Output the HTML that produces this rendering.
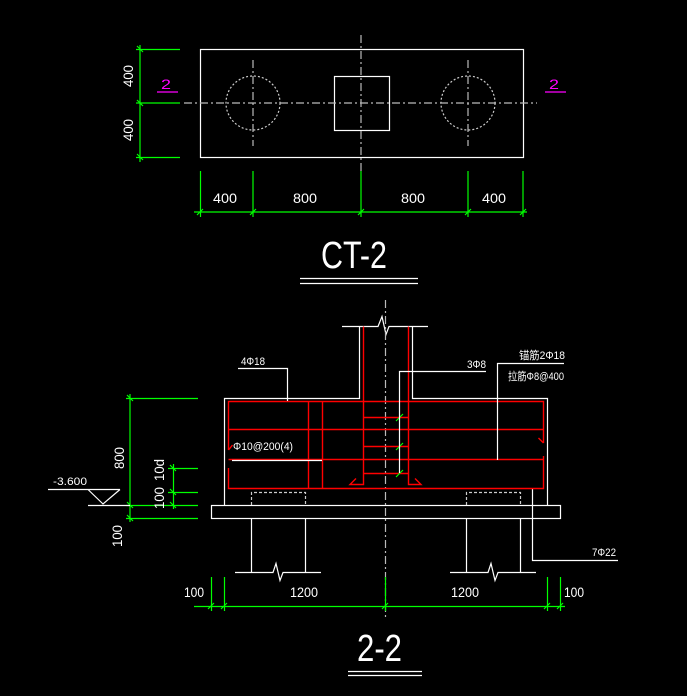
<!DOCTYPE html>
<html><head><meta charset="utf-8"><style>
html,body{margin:0;padding:0;background:#000;width:687px;height:696px;overflow:hidden}
svg{display:block}
text{font-family:"Liberation Sans","Noto Sans CJK SC",sans-serif;fill:#fff}
</style></head><body>
<svg width="687" height="696" viewBox="0 0 687 696" xmlns="http://www.w3.org/2000/svg">
<g fill="none" stroke-width="1.2">
<!-- TOP VIEW -->
<rect x="200.5" y="49.5" width="323" height="108" stroke="#fff"/>
<rect x="334.5" y="76.5" width="55" height="54" stroke="#fff"/>
<circle cx="253" cy="103" r="27" stroke="#ccc" stroke-dasharray="2,2"/>
<circle cx="468" cy="103" r="27" stroke="#ccc" stroke-dasharray="2,2"/>
<g stroke="#bbb" stroke-dasharray="8,3,2,3">
<line x1="184" y1="103" x2="537" y2="103"/>
<line x1="361" y1="35" x2="361" y2="172"/>
<line x1="253" y1="60" x2="253" y2="146"/>
<line x1="468" y1="60" x2="468" y2="146"/>
</g>
<g stroke="#0f0">
<line x1="140" y1="45" x2="140" y2="162"/>
<line x1="136" y1="49.5" x2="180" y2="49.5"/>
<line x1="136" y1="103" x2="180" y2="103"/>
<line x1="136" y1="157.5" x2="180" y2="157.5"/>
<line x1="194" y1="212" x2="527" y2="212"/>
<line x1="200.5" y1="171" x2="200.5" y2="217"/>
<line x1="253" y1="171" x2="253" y2="217"/>
<line x1="361" y1="171" x2="361" y2="217"/>
<line x1="468" y1="171" x2="468" y2="217"/>
<line x1="523" y1="171" x2="523" y2="217"/>
<path d="M137 46l6 6M137 100l6 6M137 154l6 6M197 215l6-6M250 215l6-6M358 215l6-6M465 215l6-6M520 215l6-6"/>
</g>
<g stroke="#f0f"><line x1="157" y1="92" x2="178" y2="92"/><line x1="545" y1="92" x2="566" y2="92"/></g>
<g stroke="#fff"><line x1="300" y1="278.5" x2="418" y2="278.5"/><line x1="300" y1="283.5" x2="418" y2="283.5"/></g>

<!-- SECTION -->
<path d="M224.5 505V398.5H359.5V326.5M412.5 326.5V398.5H547.5V505" stroke="#fff"/>
<path d="M342 326.5H378l4-10 4 18 3-8H428" stroke="#fff"/>
<rect x="211.5" y="505.5" width="349" height="13" stroke="#fff"/>
<line x1="385.5" y1="300" x2="385.5" y2="620" stroke="#bbb" stroke-dasharray="8,3,2,3"/>
<g stroke="#ccc" stroke-dasharray="3,2"><path d="M251.5 505V492.5H305.5V505M466.5 505V492.5H520.5V505"/></g>
<g stroke="#fff">
<path d="M251.5 518.5V572M305.5 518.5V572M466.5 518.5V572M520.5 518.5V572"/>
<path d="M235 572.5H273l3-9 4 17 3-8H321M450 572.5H488l3-9 4 17 3-8H536"/>
<path d="M532.5 488V560.5H618"/>
</g>
<g stroke="#f00" stroke-width="1.4">
<path d="M228.5 450V401.5H543.5V443M543.5 456V488.5H228.5V468"/>
<line x1="228.5" y1="429.5" x2="543.5" y2="429.5"/>
<line x1="228.5" y1="459.5" x2="543.5" y2="459.5"/>
<line x1="308.5" y1="401.5" x2="308.5" y2="488.5"/>
<line x1="322.5" y1="401.5" x2="322.5" y2="488.5"/>
<path d="M363.5 326.5V484.5H350l6-6M408.5 326.5V484.5H421l-6-6"/>
<path d="M363.5 417.5H408.5M363.5 446.5H408.5M363.5 473.5H408.5"/>
<path d="M228.5 450l4-5M543.5 443l-5-5"/>
</g>
<g stroke="#0f0"><path d="M396 421l7-7M396 450l7-7M396 477l7-7"/></g>
<g stroke="#fff">
<path d="M238 368.5H287.5V401"/>
<path d="M486 371.5H399.5V473"/>
<path d="M564 363.5H497.5V460"/>
<path d="M232 460.5H322"/>
</g>
<g stroke="#0f0">
<line x1="130" y1="394" x2="130" y2="522"/>
<line x1="126" y1="398.5" x2="198" y2="398.5"/>
<line x1="126" y1="505.5" x2="198" y2="505.5"/>
<line x1="126" y1="518.5" x2="198" y2="518.5"/>
<line x1="173.5" y1="464" x2="173.5" y2="509"/>
<line x1="168" y1="468.5" x2="198" y2="468.5"/>
<line x1="168" y1="492.5" x2="198" y2="492.5"/>
<path d="M127 395l6 6M127 502l6 6M127 515l6 6M170 465l6 6M170 489l6 6M170 502l6 6"/>
<line x1="194" y1="606.5" x2="565" y2="606.5"/>
<path d="M211.5 577V611M224.5 577V611M385.5 577V611M547.5 577V611M560.5 577V611"/>
<path d="M208 609l6-6M221 609l6-6M382 609l6-6M544 609l6-6M557 609l6-6"/>
</g>
<g stroke="#fff">
<path d="M48 489.5H120M88 489.5L103 504L120 489.5M88 505.5H130"/>
<line x1="348" y1="671.5" x2="422" y2="671.5"/><line x1="348" y1="675.5" x2="422" y2="675.5"/>
</g>
</g>

<g font-size="14">
<text transform="translate(133,76) rotate(-90)" text-anchor="middle" textLength="22" lengthAdjust="spacingAndGlyphs">400</text>
<text transform="translate(133,130) rotate(-90)" text-anchor="middle" textLength="22" lengthAdjust="spacingAndGlyphs">400</text>
<text x="213" y="203" textLength="24" lengthAdjust="spacingAndGlyphs">400</text>
<text x="293" y="203" textLength="24" lengthAdjust="spacingAndGlyphs">800</text>
<text x="401" y="203" textLength="24" lengthAdjust="spacingAndGlyphs">800</text>
<text x="482" y="203" textLength="24" lengthAdjust="spacingAndGlyphs">400</text>
<text x="161" y="89" style="fill:#f0f" textLength="10" lengthAdjust="spacingAndGlyphs">2</text>
<text x="549" y="89" style="fill:#f0f" textLength="10" lengthAdjust="spacingAndGlyphs">2</text>
<text x="321" y="268" font-size="38" textLength="66" lengthAdjust="spacingAndGlyphs">CT-2</text>
<text x="357" y="661" font-size="38" textLength="45" lengthAdjust="spacingAndGlyphs">2-2</text>
<text transform="translate(124,458) rotate(-90)" text-anchor="middle" textLength="22" lengthAdjust="spacingAndGlyphs">800</text>
<text transform="translate(122,536) rotate(-90)" text-anchor="middle" textLength="22" lengthAdjust="spacingAndGlyphs">100</text>
<text transform="translate(164,470) rotate(-90)" text-anchor="middle" textLength="22" lengthAdjust="spacingAndGlyphs">10d</text>
<text transform="translate(164,498) rotate(-90)" text-anchor="middle" textLength="22" lengthAdjust="spacingAndGlyphs">100</text>
<text x="184" y="597" textLength="20" lengthAdjust="spacingAndGlyphs">100</text>
<text x="290" y="597" textLength="28" lengthAdjust="spacingAndGlyphs">1200</text>
<text x="451" y="597" textLength="28" lengthAdjust="spacingAndGlyphs">1200</text>
<text x="564" y="597" textLength="20" lengthAdjust="spacingAndGlyphs">100</text>
</g>
<g font-size="11">
<text x="53" y="485" textLength="34" lengthAdjust="spacingAndGlyphs">-3.600</text>
<text x="241" y="365" textLength="24" lengthAdjust="spacingAndGlyphs">4Φ18</text>
<text x="467" y="368" textLength="19" lengthAdjust="spacingAndGlyphs">3Φ8</text>
<text x="519" y="359" textLength="46" lengthAdjust="spacingAndGlyphs">锚筋2Φ18</text>
<text x="508" y="380" textLength="56" lengthAdjust="spacingAndGlyphs">拉筋Φ8@400</text>
<text x="233" y="450" textLength="60" lengthAdjust="spacingAndGlyphs">Φ10@200(4)</text>
<text x="592" y="556" textLength="24" lengthAdjust="spacingAndGlyphs">7Φ22</text>
</g>
</svg>
</body></html>
